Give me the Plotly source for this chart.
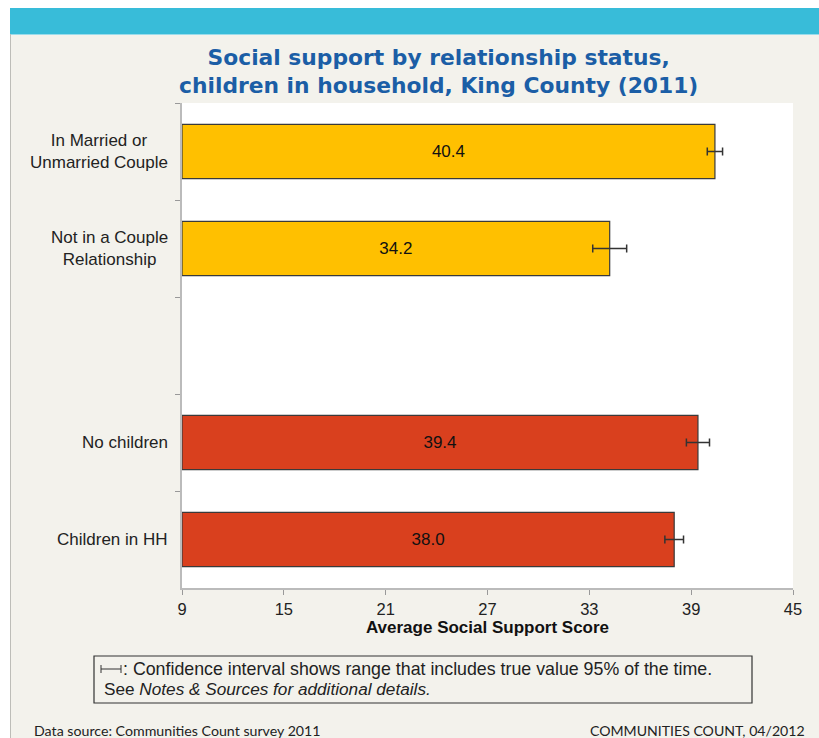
import plotly.graph_objects as go

# ---- data ----
categories = ["In Married or<br>Unmarried Couple", "Not in a Couple<br>Relationship", " ",
              "No children", "Children in HH"]
rel_labels = ["In Married or<br>Unmarried Couple", "Not in a Couple<br>Relationship"]
rel_values = [40.4, 34.2]
rel_errors = [0.45, 1.0]
hh_labels = ["No children", "Children in HH"]
hh_values = [39.4, 38.0]
hh_errors = [0.68, 0.55]
x_ticks = [9, 15, 21, 27, 33, 39, 45]
x_min, x_max = 9, 45

W, H = 819, 738
L, R, T, B = 182, 26, 103, 150
PW, PH = W - L - R, H - T - B


def px(x):
    return (x - L) / PW


def py(y):
    return (H - B - y) / PH


FONT = "Liberation Sans, Arial, sans-serif"

fig = go.Figure()
for labels, values, errs, color in [
    (rel_labels, rel_values, rel_errors, "#FFC000"),
    (hh_labels, hh_values, hh_errors, "#D9401E"),
]:
    fig.add_trace(go.Bar(
        y=labels, x=[v - x_min for v in values], base=x_min, orientation="h",
        marker=dict(color=color, line=dict(color="#3a3a3a", width=1.2)),
        error_x=dict(type="data", array=errs, color="#333333", thickness=1.5, width=4),
        text=[f"{v:.1f}" for v in values], textposition="inside",
        insidetextanchor="middle", textangle=0,
        textfont=dict(family=FONT, size=17, color="#111111"),
        hoverinfo="skip", showlegend=False,
    ))

# category labels (centered multi-line)
for c in categories:
    if c.strip():
        fig.add_annotation(x=px(170), xref="paper", y=c, yref="y", text=c,
                           showarrow=False, xanchor="right", align="center",
                           font=dict(family=FONT, size=17, color="#222222"))

shapes = [
    # white strip at the top and left
    dict(type="rect", xref="paper", yref="paper", x0=px(0), x1=px(W), y0=py(8), y1=py(0),
         fillcolor="white", line=dict(width=0), layer="below"),
    dict(type="rect", xref="paper", yref="paper", x0=px(0), x1=px(10), y0=py(H), y1=py(0),
         fillcolor="white", line=dict(width=0), layer="below"),
    # cyan band
    dict(type="rect", xref="paper", yref="paper", x0=px(10), x1=px(W), y0=py(34), y1=py(8),
         fillcolor="#38BCD9", line=dict(width=0), layer="below"),
    dict(type="line", xref="paper", yref="paper", x0=px(10), x1=px(W), y0=py(34.5), y1=py(34.5),
         line=dict(color="#9ADCEB", width=1), layer="below"),
    dict(type="line", xref="paper", yref="paper", x0=px(10.5), x1=px(10.5), y0=py(H), y1=py(34),
         line=dict(color="#BDBDB8", width=1), layer="below"),
    # note box
    dict(type="rect", xref="paper", yref="paper", x0=px(94), x1=px(752), y0=py(703), y1=py(656),
         fillcolor="rgba(0,0,0,0)", line=dict(color="#333333", width=1.2)),
    # CI glyph
    dict(type="line", xref="paper", yref="paper", x0=px(101), x1=px(121), y0=py(669), y1=py(669),
         line=dict(color="#333333", width=1)),
    dict(type="line", xref="paper", yref="paper", x0=px(101), x1=px(101), y0=py(665), y1=py(673),
         line=dict(color="#333333", width=1)),
    dict(type="line", xref="paper", yref="paper", x0=px(121), x1=px(121), y0=py(665), y1=py(673),
         line=dict(color="#333333", width=1)),
]
for s in shapes:
    fig.add_shape(**s)

ann = [
    dict(x=px(438), y=py(71), xref="paper", yref="paper",
         text="<b>Social support by relationship status,<br>children in household, King County (2011)</b>",
         showarrow=False, xanchor="center", yanchor="middle", align="center",
         font=dict(family="DejaVu Sans, sans-serif", size=21.8, color="#1B5EA6")),
    dict(x=px(121), y=py(669), xref="paper", yref="paper",
         text=": Confidence interval shows range that includes true value 95% of the time.",
         showarrow=False, xanchor="left", yanchor="middle",
         font=dict(family=FONT, size=17.8, color="#222222")),
    dict(x=px(102), y=py(689), xref="paper", yref="paper",
         text="See <i>Notes &amp; Sources for additional details.</i>",
         showarrow=False, xanchor="left", yanchor="middle",
         font=dict(family=FONT, size=17.2, color="#222222")),
    dict(x=px(32), y=py(730), xref="paper", yref="paper",
         text="Data source: Communities Count survey 2011",
         showarrow=False, xanchor="left", yanchor="middle",
         font=dict(family="Lato, sans-serif", size=14.2, color="#222222")),
    dict(x=px(807), y=py(730), xref="paper", yref="paper",
         text="COMMUNITIES COUNT, 04/2012",
         showarrow=False, xanchor="right", yanchor="middle",
         font=dict(family="Lato, sans-serif", size=14.1, color="#222222")),
]
for a in ann:
    fig.add_annotation(**a)

fig.update_layout(
    width=W, height=H,
    margin=dict(l=L, r=R, t=T, b=B),
    paper_bgcolor="#F3F2EC", plot_bgcolor="white",
    bargap=0.44, barmode="group",
    xaxis=dict(range=[x_min, x_max], tickvals=x_ticks, ticktext=[str(t) for t in x_ticks],
               showgrid=False, zeroline=False, showline=True, linecolor="#BBBBBB", linewidth=1.5,
               ticks="outside", ticklen=5, tickcolor="#999999",
               tickfont=dict(family=FONT, size=16.5, color="#222222"),
               title=dict(text="<b>Average Social Support Score</b>", standoff=4,
                          font=dict(family=FONT, size=17, color="#111111"))),
    yaxis=dict(type="category", categoryorder="array", categoryarray=categories,
               range=[4.5, -0.5], showticklabels=False, tickson="boundaries",
               ticks="outside", ticklen=5, tickcolor="#999999",
               showgrid=False, zeroline=False, showline=True, linecolor="#BBBBBB", linewidth=1.5),
)

fig.write_html("out.html", config={"displayModeBar": False},
               post_script="document.body.style.margin='0';")
